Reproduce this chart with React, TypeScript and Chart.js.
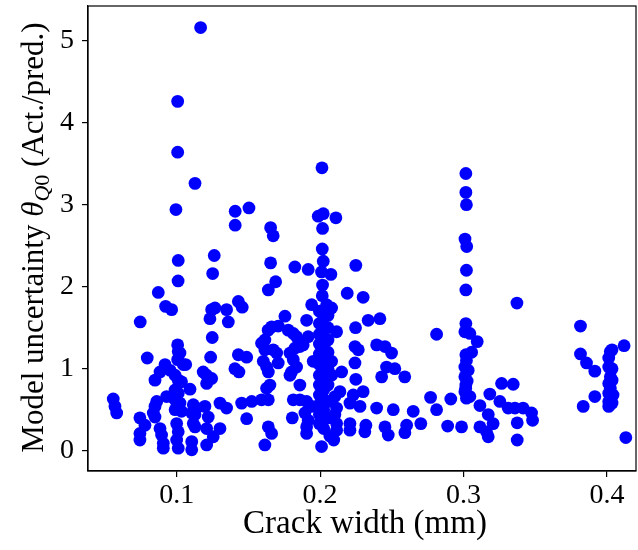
import React, { useEffect, useRef } from "react";
import { Chart, registerables } from "chart.js";

Chart.register(...registerables);

// Crack width (mm) of each test
const crackWidth = [
  0.1167, 0.1007, 0.1007, 0.1128, 0.0995, 0.1408, 0.1504, 0.1408, 0.1655, 0.1673,
  0.1011, 0.1262, 0.1251, 0.1010, 0.1655, 0.1690, 0.1639, 0.0872, 0.0923, 0.0965,
  0.1267, 0.1348, 0.1430, 0.1457, 0.0746, 0.1244, 0.1232, 0.1360, 0.1248, 0.1638,
  0.1662, 0.1592, 0.1615, 0.1007, 0.1011, 0.1023, 0.0795, 0.1007, 0.1046, 0.1063,
  0.1237, 0.1430, 0.1488, 0.1406, 0.1434, 0.0849, 0.0884, 0.0919, 0.0954, 0.0989,
  0.1011, 0.1034, 0.1185, 0.1209, 0.1244, 0.1209, 0.1093, 0.0989, 0.1011, 0.0965,
  0.0930, 0.0558, 0.0570, 0.0582, 0.0861, 0.0849, 0.0837, 0.0849, 0.0989, 0.1023,
  0.0989, 0.1034, 0.1116, 0.1139, 0.1105, 0.1128, 0.1116, 0.1128, 0.1197, 0.1220,
  0.1209, 0.1302, 0.1348, 0.1453, 0.1523, 0.1592, 0.1639, 0.1488, 0.0744, 0.0779,
  0.0744, 0.0744, 0.0884, 0.0895, 0.0907, 0.0907, 0.1000, 0.1011, 0.1000, 0.1011,
  0.1105, 0.1105, 0.1209, 0.1255, 0.1302, 0.1639, 0.1662, 0.1615,
  0.2013, 0.1987, 0.2022, 0.2110, 0.2017, 0.2015, 0.2022, 0.2010, 0.2075, 0.2017,
  0.2015, 0.2045, 0.2080, 0.1824, 0.1917, 0.2249, 0.2189, 0.2300, 0.1941, 0.1755,
  0.1906, 0.2335, 0.2417, 0.2247, 0.1708, 0.1778, 0.1813, 0.1836, 0.1917, 0.2115,
  0.1615, 0.1673, 0.1697, 0.1790, 0.1824, 0.1859, 0.1882, 0.2243, 0.2266, 0.2394,
  0.2452, 0.2498, 0.1813, 0.1836, 0.1952, 0.2080, 0.2243, 0.1604, 0.1627, 0.1639,
  0.1708, 0.1801, 0.1790, 0.2150, 0.2080, 0.2463, 0.2521, 0.2429, 0.2249, 0.1650,
  0.1627, 0.1859, 0.2138, 0.2103, 0.2300, 0.2231, 0.2208, 0.2278, 0.1813, 0.1859,
  0.1906, 0.1941, 0.2394, 0.2510, 0.2115, 0.2103, 0.1894, 0.1917, 0.1906, 0.1906,
  0.1806, 0.2115, 0.2115, 0.2068, 0.2208, 0.2208, 0.2319, 0.2312, 0.2452, 0.2475,
  0.2010, 0.2095,
  0.1995, 0.2025, 0.1995, 0.2025, 0.1995, 0.2025, 0.1995, 0.2025, 0.1995, 0.2025,
  0.1995, 0.2025, 0.1995, 0.2025, 0.1995, 0.2025, 0.1995, 0.2025, 0.1995, 0.2025,
  0.1995, 0.2025, 0.1995, 0.2025,
  0.2055, 0.2055, 0.2055, 0.2055, 0.2055, 0.2055, 0.2055, 0.2055,
  0.3016, 0.3016, 0.3020, 0.3010, 0.3022, 0.3020, 0.3016, 0.3372, 0.3016, 0.3009,
  0.3044, 0.3095, 0.2812, 0.2590, 0.3016, 0.3056, 0.3009, 0.3032, 0.3009, 0.3016,
  0.3009, 0.3020, 0.3044, 0.3020, 0.3025, 0.3015, 0.2770, 0.2911, 0.2812, 0.2649,
  0.2603, 0.2591, 0.2702, 0.2889, 0.2986, 0.3114, 0.3183, 0.3253, 0.3265, 0.3346,
  0.3172, 0.3206, 0.3114, 0.3160, 0.3172, 0.3311, 0.3358, 0.3415, 0.3474, 0.3481,
  0.3374, 0.3374,
  0.3815, 0.3815, 0.3857, 0.3915, 0.3915, 0.3834, 0.4119, 0.4023, 0.4035, 0.4012,
  0.4012, 0.4035, 0.4023, 0.4035, 0.4012, 0.4023, 0.4012, 0.4042, 0.4012, 0.4035,
  0.4012, 0.4131,
];

// Model uncertainty theta_Q0 (Act./pred.)
const theta = [
  5.16, 4.26, 3.64, 3.26, 2.94, 2.92, 2.96, 2.75, 2.72, 2.62,
  2.32, 2.38, 2.16, 2.07, 2.29, 2.06, 1.96, 1.93, 1.76, 1.72,
  1.74, 1.72, 1.82, 1.75, 1.57, 1.72, 1.61, 1.57, 1.38, 1.47,
  1.51, 1.31, 1.35, 1.29, 1.21, 1.19, 1.13, 1.11, 1.05, 1.05,
  1.14, 1.17, 1.14, 1.00, 0.96, 0.86, 0.96, 1.05, 0.98, 0.92,
  0.86, 0.84, 0.96, 0.92, 0.88, 0.82, 0.75, 0.74, 0.70, 0.66,
  0.66, 0.63, 0.54, 0.46, 0.60, 0.54, 0.46, 0.41, 0.62, 0.58,
  0.50, 0.48, 0.56, 0.52, 0.46, 0.44, 0.33, 0.29, 0.54, 0.41,
  0.27, 0.58, 0.52, 0.58, 0.60, 0.62, 0.62, 0.39, 0.40, 0.31,
  0.21, 0.13, 0.27, 0.19, 0.09, 0.03, 0.33, 0.23, 0.13, 0.03,
  0.11, 0.01, 0.07, 0.17, 0.27, 0.29, 0.21, 0.07,
  3.45, 2.86, 2.89, 2.84, 2.71, 2.46, 2.31, 2.18, 2.15, 2.02,
  1.89, 1.78, 1.74, 2.24, 2.21, 2.26, 1.92, 1.87, 1.78, 1.64,
  1.59, 1.59, 1.61, 1.50, 1.52, 1.47, 1.43, 1.39, 1.39, 1.45,
  1.23, 1.23, 1.19, 1.19, 1.25, 1.27, 1.29, 1.27, 1.23, 1.29,
  1.27, 1.19, 1.11, 1.02, 1.09, 1.09, 1.07, 1.09, 1.02, 0.96,
  1.07, 0.96, 0.92, 0.96, 0.92, 1.02, 1.00, 0.90, 0.87, 0.80,
  0.76, 0.80, 0.72, 0.66, 0.72, 0.68, 0.58, 0.54, 0.62, 0.62,
  0.60, 0.54, 0.52, 0.50, 0.52, 0.44, 0.46, 0.37, 0.29, 0.21,
  0.40, 0.33, 0.25, 0.18, 0.33, 0.25, 0.31, 0.23, 0.29, 0.19,
  0.05, 0.13,
  1.70, 1.62, 1.55, 1.48, 1.42, 1.36, 1.30, 1.24, 1.18, 1.12,
  1.05, 0.98, 0.92, 0.86, 0.80, 0.74, 0.68, 0.62, 0.56, 0.50,
  0.44, 0.38, 0.33, 0.27,
  1.65, 1.50, 1.35, 1.20, 1.00, 0.80, 0.60, 0.40,
  3.38, 3.15, 3.00, 2.58, 2.49, 2.20, 1.96, 1.80, 1.55, 1.45,
  1.43, 1.33, 1.42, 0.90, 1.17, 1.20, 1.02, 0.98, 0.90, 0.80,
  0.72, 0.64, 0.66, 1.10, 0.85, 0.76, 0.65, 0.63, 0.50, 0.48,
  0.31, 0.22, 0.33, 0.30, 0.29, 0.55, 0.69, 0.60, 0.82, 0.81,
  0.44, 0.33, 0.29, 0.23, 0.17, 0.52, 0.52, 0.52, 0.46, 0.37,
  0.34, 0.13,
  1.52, 1.18, 1.07, 0.97, 0.66, 0.54, 1.28, 1.21, 1.23, 1.13,
  1.02, 1.00, 0.90, 0.86, 0.82, 0.76, 0.70, 0.68, 0.60, 0.58,
  0.54, 0.16,
];

const xTicks = [0.1, 0.2, 0.3, 0.4];
const yTicks = [0, 1, 2, 3, 4, 5];
const xLimits = [0.0382, 0.4202];
const yLimits = [-0.248, 5.423];

const FONT = '"Liberation Serif", "DejaVu Serif", serif';
const TICK_SIZE = 28;
const XTITLE_SIZE = 33;
const YTITLE_SIZE = 31;

export default function App() {
  const ref = useRef<HTMLCanvasElement>(null);

  useEffect(() => {
    const canvas = ref.current;
    if (!canvas) return;
    const points = crackWidth.map((x, i) => ({ x, y: theta[i] }));

    const framePlugin = {
      id: "frameAndTitles",
      afterDraw(chart: any) {
        const { ctx, chartArea } = chart;
        ctx.save();
        ctx.strokeStyle = "#000";
        ctx.lineWidth = 1.2;
        ctx.strokeRect(
          chartArea.left,
          chartArea.top,
          chartArea.right - chartArea.left,
          chartArea.bottom - chartArea.top
        );
        ctx.fillStyle = "#000";
        // x title
        ctx.font = `${XTITLE_SIZE}px ${FONT}`;
        ctx.textAlign = "center";
        ctx.textBaseline = "alphabetic";
        ctx.fillText("Crack width (mm)", (chartArea.left + chartArea.right) / 2 + 3, 533);
        // y title with subscript
        const S = YTITLE_SIZE;
        const segs = [
          { t: "Model uncertainty ", f: `${S}px ${FONT}`, dy: 0 },
          { t: "θ", f: `italic ${S}px ${FONT}`, dy: 0 },
          { t: "Q", f: `italic ${Math.round(S * 0.7)}px ${FONT}`, dy: S * 0.2 },
          { t: "0", f: `${Math.round(S * 0.7)}px ${FONT}`, dy: S * 0.2 },
          { t: " (Act./pred.)", f: `${S}px ${FONT}`, dy: 0 },
        ];
        let total = 0;
        const widths = segs.map((s) => {
          ctx.font = s.f;
          const w = ctx.measureText(s.t).width;
          total += w;
          return w;
        });
        ctx.translate(43, (chartArea.top + chartArea.bottom) / 2 - 1);
        ctx.rotate(-Math.PI / 2);
        ctx.textAlign = "left";
        let x = -total / 2;
        segs.forEach((s, i) => {
          ctx.font = s.f;
          ctx.fillText(s.t, x, s.dy);
          x += widths[i];
        });
        ctx.restore();
      },
    };

    const chart = new Chart(canvas, {
      type: "scatter",
      data: {
        datasets: [
          {
            data: points,
            backgroundColor: "#0000ff",
            borderColor: "#0000ff",
            borderWidth: 0,
            pointRadius: 6.4,
            pointHoverRadius: 6.4,
          },
        ],
      },
      options: {
        responsive: false,
        animation: false,
        events: [],
        layout: { autoPadding: false, padding: { top: 6, right: 2, left: 0, bottom: 0 } },
        plugins: {
          legend: { display: false },
          tooltip: { enabled: false },
        },
        scales: {
          x: {
            type: "linear",
            min: xLimits[0],
            max: xLimits[1],
            afterBuildTicks: (s: any) => {
              s.ticks = xTicks.map((v) => ({ value: v }));
            },
            afterFit: (s: any) => {
              s.height = 79;
              s.paddingLeft = 0;
              s.paddingRight = 0;
            },
            ticks: {
              color: "#000",
              font: { family: FONT, size: TICK_SIZE },
              padding: 2,
              maxRotation: 0,
              autoSkip: false,
              callback: (v: any) => Number(v).toFixed(1),
            },
            grid: {
              drawOnChartArea: false,
              drawTicks: true,
              tickLength: 6,
              color: "#000",
              lineWidth: 1.2,
            },
            border: { display: true, color: "#000", width: 1.2 },
          },
          y: {
            type: "linear",
            min: yLimits[0],
            max: yLimits[1],
            afterBuildTicks: (s: any) => {
              s.ticks = yTicks.map((v) => ({ value: v }));
            },
            afterFit: (s: any) => {
              s.width = 88;
              s.paddingTop = 0;
              s.paddingBottom = 0;
            },
            ticks: {
              color: "#000",
              font: { family: FONT, size: TICK_SIZE },
              padding: 8,
              autoSkip: false,
              callback: (v: any) => String(v),
            },
            grid: {
              drawOnChartArea: false,
              drawTicks: true,
              tickLength: 6,
              color: "#000",
              lineWidth: 1.2,
            },
            border: { display: true, color: "#000", width: 1.2 },
          },
        },
      },
      plugins: [framePlugin],
    });
    return () => chart.destroy();
  }, []);

  return (
    <div style={{ position: "absolute", left: 0, top: 0, width: 638, height: 550, background: "#fff" }}>
      <canvas ref={ref} width={638} height={550} style={{ display: "block" }} />
    </div>
  );
}
